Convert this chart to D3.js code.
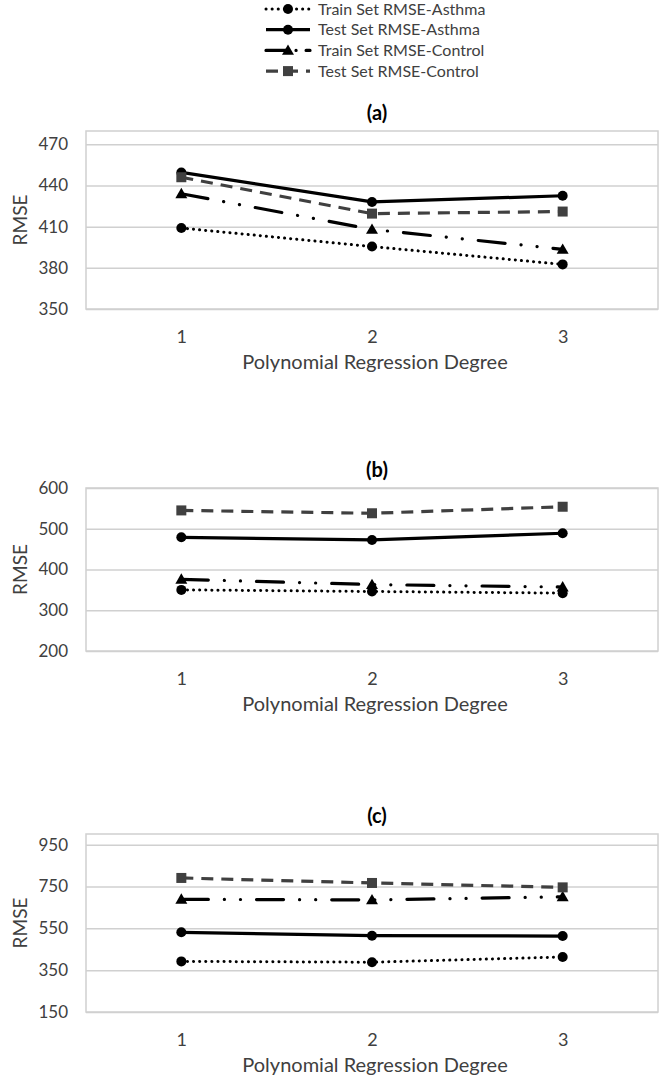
<!DOCTYPE html>
<html><head><meta charset="utf-8">
<script src="https://cdn.jsdelivr.net/npm/d3@7/dist/d3.min.js"></script>
<style>body{margin:0;background:#fff}svg{display:block}</style>
</head><body>
<script>
// ---- data ----
const degrees = ["1", "2", "3"];
const seriesNames = ["Train Set RMSE-Asthma", "Test Set RMSE-Asthma", "Train Set RMSE-Control", "Test Set RMSE-Control"];
const panelTitles = ["(a)", "(b)", "(c)"];
const ticksA = [350, 380, 410, 440, 470];
const ticksB = [200, 300, 400, 500, 600];
const ticksC = [150, 350, 550, 750, 950];
// panel (a)
const aTrainAsthma = [409, 395.5, 382.5];
const aTestAsthma = [449.5, 428, 432.5];
const aTrainControl = [434, 408, 393.5];
const aTestControl = [446, 419.5, 421];
// panel (b)
const bTrainAsthma = [350, 346, 342];
const bTestAsthma = [479, 472.5, 489];
const bTrainControl = [376, 363, 357];
const bTestControl = [545, 538, 554];
// panel (c)
const cTrainAsthma = [392, 388, 413];
const cTestAsthma = [531, 515, 513];
const cTrainControl = [689, 686, 701];
const cTestControl = [791, 767, 746];

const W = 664, H = 1078;
const FONT = "Lato, 'Open Sans', sans-serif";
const svg = d3.select("body").append("svg").attr("width", W).attr("height", H);

const styles = [
  {color: "#000", width: 3, dash: "0.1,6", cap: "round", marker: "circle"},
  {color: "#000", width: 3.2, dash: null, cap: "butt", marker: "circle"},
  {color: "#000", width: 3.2, dash: "27,16,0.1,16,0.1,16", cap: "round", marker: "triangle"},
  {color: "#404040", width: 3.2, dash: "12,8", cap: "butt", marker: "square"}
];

function drawMarker(g, type, x, y, color) {
  if (type === "circle") {
    g.append("circle").attr("cx", x).attr("cy", y).attr("r", 5).attr("fill", color);
  } else if (type === "square") {
    g.append("rect").attr("x", x - 5).attr("y", y - 5).attr("width", 10).attr("height", 10).attr("fill", color);
  } else {
    g.append("path").attr("d", d3.symbol().type(d3.symbolTriangle).size(62)()).attr("transform", `translate(${x},${y + 1})`).attr("fill", color);
  }
}

// ---- legend ----
const leg = svg.append("g");
const legDash = ["0.1,6", null, "20,10,0.1,10", "12,8"];
seriesNames.forEach((n, i) => {
  const y = 9 + i * 20.7;
  const st = styles[i];
  leg.append("line").attr("x1", 266).attr("x2", 310).attr("y1", y).attr("y2", y)
    .attr("stroke", st.color).attr("stroke-width", st.width)
    .attr("stroke-dasharray", legDash[i]).attr("stroke-linecap", st.cap);
  drawMarker(leg, st.marker, 288, y, st.color);
  leg.append("text").attr("x", 318).attr("y", y).attr("dy", "0.35em")
    .attr("font-family", FONT).attr("font-size", 16).attr("fill", "#404040").text(n);
});

// ---- panels ----
const boxL = 86, boxR = 658;
const panels = [
  {title: panelTitles[0], ticks: ticksA, series: [aTrainAsthma, aTestAsthma, aTrainControl, aTestControl], boxTop: 131, yTop: 144.3, yBot: 309},
  {title: panelTitles[1], ticks: ticksB, series: [bTrainAsthma, bTestAsthma, bTrainControl, bTestControl], boxTop: 488, yTop: 488, yBot: 651},
  {title: panelTitles[2], ticks: ticksC, series: [cTrainAsthma, cTestAsthma, cTrainControl, cTestControl], boxTop: 834, yTop: 844.7, yBot: 1012}
];

const x = d3.scalePoint().domain(degrees).range([boxL, boxR]).padding(0.5);

panels.forEach(p => {
  const g = svg.append("g");
  const y = d3.scaleLinear().domain([p.ticks[0], p.ticks[p.ticks.length - 1]]).range([p.yBot, p.yTop]);
  // title
  g.append("text").attr("x", 377).attr("y", p.boxTop - 18).attr("dy", "0.35em").attr("text-anchor", "middle")
    .attr("font-family", FONT).attr("font-weight", "bold").attr("font-size", 20).attr("fill", "#000").text(p.title);
  // box
  g.append("rect").attr("x", boxL).attr("y", p.boxTop).attr("width", boxR - boxL).attr("height", p.yBot - p.boxTop)
    .attr("fill", "none").attr("stroke", "#d0d0d0").attr("stroke-width", 1.5);
  // y axis with gridlines
  const ya = d3.axisLeft(y).tickValues(p.ticks).tickSize(-(boxR - boxL)).tickPadding(18).tickFormat(d3.format("d"));
  const yg = g.append("g").attr("transform", `translate(${boxL},0)`).call(ya);
  yg.select(".domain").remove();
  yg.selectAll(".tick line").attr("stroke", "#d0d0d0").attr("stroke-width", 1.5);
  yg.selectAll(".tick text").attr("font-family", FONT).attr("font-size", 17).attr("fill", "#404040");
  // x axis labels
  const xa = d3.axisBottom(x).tickSize(0).tickPadding(21);
  const xg = g.append("g").attr("transform", `translate(0,${p.yBot})`).call(xa);
  xg.select(".domain").remove();
  xg.selectAll(".tick text").attr("font-family", FONT).attr("font-size", 18).attr("fill", "#404040");
  // axis titles
  g.append("text").attr("x", 375).attr("y", p.yBot + 53).attr("dy", "0.35em").attr("text-anchor", "middle")
    .attr("font-family", FONT).attr("font-size", 20).attr("fill", "#404040").text("Polynomial Regression Degree");
  g.append("text").attr("transform", `translate(20,${(p.boxTop + p.yBot) / 2}) rotate(-90)`).attr("dy", "0.35em")
    .attr("text-anchor", "middle").attr("font-family", FONT).attr("font-size", 19).attr("fill", "#404040").text("RMSE");
  // series lines
  const line = d3.line().x((d, i) => x(degrees[i])).y(d => y(d));
  p.series.forEach((s, i) => {
    const st = styles[i];
    g.append("path").attr("d", line(s)).attr("fill", "none").attr("stroke", st.color)
      .attr("stroke-width", st.width).attr("stroke-dasharray", st.dash).attr("stroke-linecap", st.cap);
  });
  p.series.forEach((s, i) => {
    s.forEach((v, j) => drawMarker(g, styles[i].marker, x(degrees[j]), y(v), styles[i].color));
  });
});
</script>
</body></html>
